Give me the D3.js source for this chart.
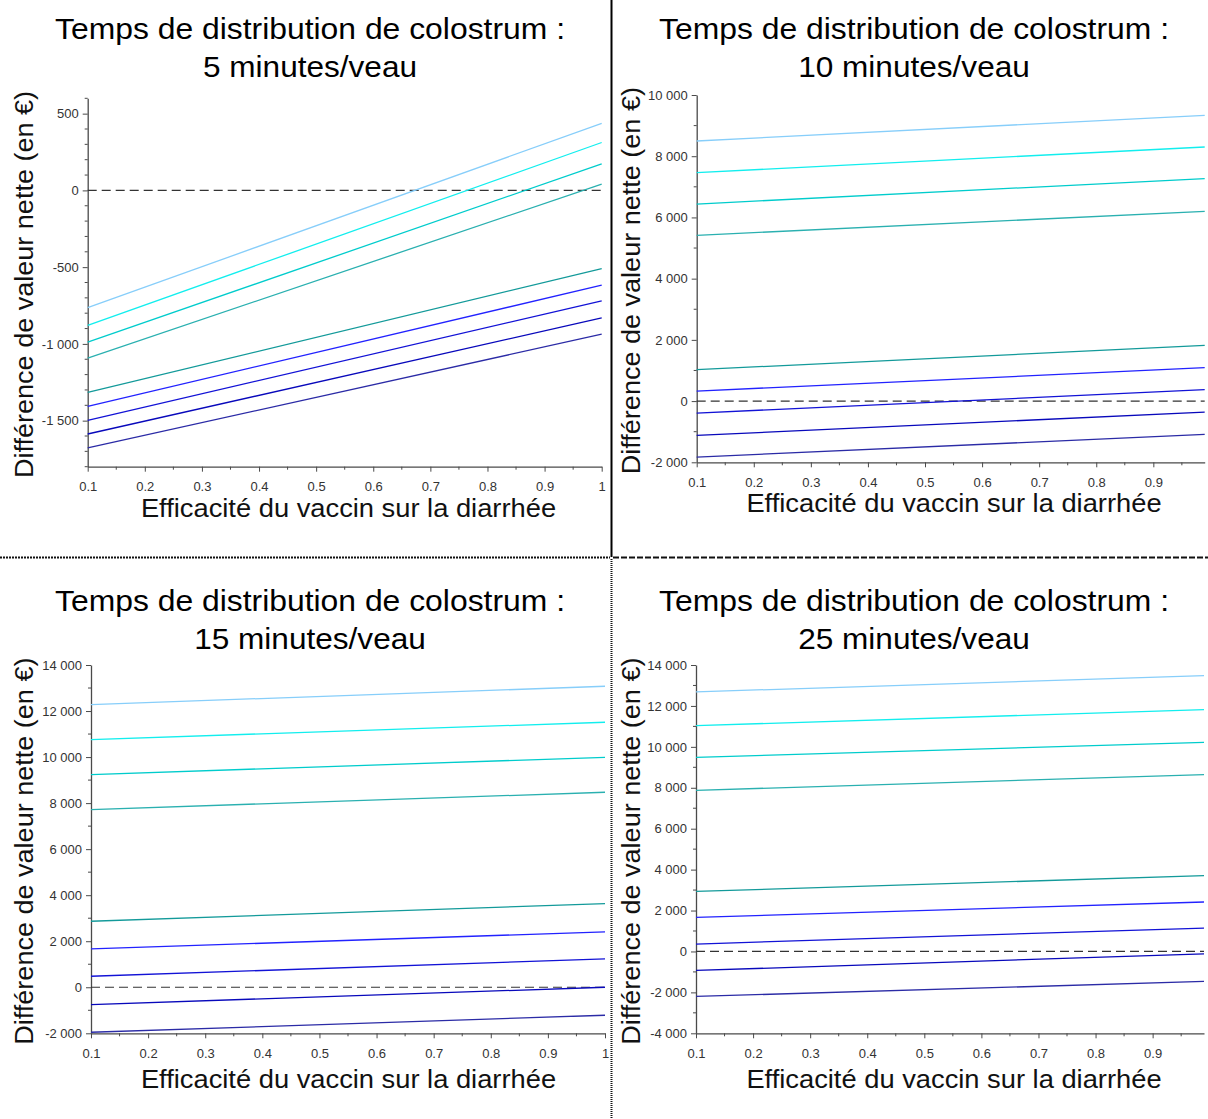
<!DOCTYPE html>
<html>
<head>
<meta charset="utf-8">
<script src="https://cdn.jsdelivr.net/npm/d3@7/dist/d3.min.js"></script>
<style>
  html, body { margin: 0; padding: 0; background: #fff; }
  svg { display: block; font-family: "Liberation Sans", Arial, sans-serif; }
</style>
</head>
<body>
<svg id="chart" width="1208" height="1119"></svg>
<script>
// Net value difference (EUR) against vaccine efficacy on diarrhoea,
// one panel per colostrum distribution time.
const timeLabels = ["5 minutes/veau", "10 minutes/veau", "15 minutes/veau", "25 minutes/veau"];
const efficacyStart = 0.1;
const efficacyEnd = [1, 0.99, 1, 0.99];

// Value of each of the nine scenarios at the first and last efficacy
const start5  = [-764, -879, -989, -1093, -1316, -1407, -1498, -1587, -1677];
const end5    = [437, 312, 173, 41, -509, -617, -719, -831, -937];
const start10 = [8497, 7464, 6438, 5415, 1026, 327, -392, -1121, -1830];
const end10   = [9337, 8301, 7268, 6199, 1820, 1091, 372, -359, -1088];
const start15 = [12280, 10760, 9240, 7720, 2867, 1668, 478, -752, -1955];
const end15   = [13076, 11512, 9991, 8471, 3636, 2406, 1233, 0, -1216];
const start25 = [12685, 11037, 9487, 7873, 2934, 1663, 362, -929, -2200];
const end25   = [13482, 11819, 10220, 8641, 3702, 2416, 1144, -114, -1467];

const yDomains = [[-1800, 600], [-2000, 10000], [-2000, 14000], [-4000, 14000]];
const yMajorTicks = [
  [-1500, -1000, -500, 0, 500],
  [-2000, 0, 2000, 4000, 6000, 8000, 10000],
  [-2000, 0, 2000, 4000, 6000, 8000, 10000, 12000, 14000],
  [-4000, -2000, 0, 2000, 4000, 6000, 8000, 10000, 12000, 14000]
];
const yMinorStep = [100, 1000, 1000, 1000];
const xMajorTicks = [
  [0.1, 0.2, 0.3, 0.4, 0.5, 0.6, 0.7, 0.8, 0.9, 1],
  [0.1, 0.2, 0.3, 0.4, 0.5, 0.6, 0.7, 0.8, 0.9],
  [0.1, 0.2, 0.3, 0.4, 0.5, 0.6, 0.7, 0.8, 0.9, 1],
  [0.1, 0.2, 0.3, 0.4, 0.5, 0.6, 0.7, 0.8, 0.9]
];

const lineColors = ["#87cefa", "#12eeee", "#00cccc", "#2ab0b0", "#139a9a",
                    "#2222ff", "#1212d6", "#0808bb", "#2b2ba6"];

const starts = [start5, start10, start15, start25];
const ends = [end5, end10, end15, end25];

// Plot frames for the four panels
const frames = [
  { left: 87.7, right: 601.7, top: 98.3, bottom: 466.7, cx: 310, ty: 0,   ylx: 33 },
  { left: 696.7, right: 1204.7, top: 95, bottom: 462.3, cx: 914, ty: 0,   ylx: 640 },
  { left: 91, right: 605, top: 665, bottom: 1033.3, cx: 310, ty: 572, ylx: 33 },
  { left: 696, right: 1204, top: 665, bottom: 1033.3, cx: 914, ty: 572, ylx: 640 }
];
const xLabelCenter = [348.5, 954, 348.5, 954];

const fr = d3.formatLocale({ decimal: ".", thousands: "\u00a0", grouping: [3], currency: ["", ""], minus: "-" });
const fmtY = fr.format(",d");
const fmtX = d => String(+d.toFixed(1));

const svg = d3.select("#chart");
const axisColor = "#4a4a4a";

// Widen a text element's glyphs by a factor (the face used is slightly broad)
function widen(sel, k) {
  sel.each(function () {
    const w = this.getComputedTextLength();
    d3.select(this).attr("textLength", w * k).attr("lengthAdjust", "spacingAndGlyphs");
  });
}

frames.forEach((f, i) => {
  const g = svg.append("g");
  const x = d3.scaleLinear().domain([efficacyStart, efficacyEnd[i]]).range([f.left, f.right]);
  const y = d3.scaleLinear().domain(yDomains[i]).range([f.bottom, f.top]);

  // Title
  const t1 = g.append("text")
    .attr("x", f.cx).attr("y", 39 + f.ty)
    .attr("text-anchor", "middle").attr("font-size", 29.5).attr("fill", "#000")
    .text("Temps de distribution de colostrum :");
  const t2 = g.append("text")
    .attr("x", f.cx).attr("y", 77 + f.ty)
    .attr("text-anchor", "middle").attr("font-size", 29.5).attr("fill", "#000")
    .text(timeLabels[i]);
  widen(t1, 1.08);
  widen(t2, 1.07);

  // Minor ticks
  const yMinor = d3.range(yDomains[i][0], yDomains[i][1] + 1, yMinorStep[i])
    .filter(v => !yMajorTicks[i].includes(v));
  const xMinor = d3.range(0.15, efficacyEnd[i], 0.1);
  g.selectAll(".ym").data(yMinor).join("line")
    .attr("x1", f.left - 3).attr("x2", f.left)
    .attr("y1", d => y(d)).attr("y2", d => y(d))
    .attr("stroke", axisColor).attr("stroke-width", 1);
  g.selectAll(".xm").data(xMinor).join("line")
    .attr("x1", d => x(d)).attr("x2", d => x(d))
    .attr("y1", f.bottom).attr("y2", f.bottom + 3)
    .attr("stroke", axisColor).attr("stroke-width", 1);

  // Axes
  const yAxis = g.append("g").attr("transform", `translate(${f.left},0)`)
    .call(d3.axisLeft(y).tickValues(yMajorTicks[i]).tickFormat(fmtY).tickSize(5).tickPadding(4).tickSizeOuter(0));
  const xAxis = g.append("g").attr("transform", `translate(0,${f.bottom})`)
    .call(d3.axisBottom(x).tickValues(xMajorTicks[i]).tickFormat(fmtX).tickSize(5).tickPadding(10).tickSizeOuter(0));
  [yAxis, xAxis].forEach(a => {
    a.select(".domain").attr("stroke", axisColor).attr("stroke-width", 1.3);
    a.selectAll(".tick line").attr("stroke", axisColor);
    a.selectAll(".tick text").attr("font-size", 13).attr("fill", "#333")
      .attr("font-family", "'Liberation Sans', Arial, sans-serif");
  });

  // Zero reference
  g.append("line")
    .attr("x1", f.left).attr("x2", f.right)
    .attr("y1", y(0)).attr("y2", y(0))
    .attr("stroke", "#333").attr("stroke-width", 1.2)
    .attr("stroke-dasharray", "9,5");

  // Scenario lines
  const line = d3.line().x(d => x(d[0])).y(d => y(d[1]));
  const series = starts[i].map((s, k) => [[efficacyStart, s], [efficacyEnd[i], ends[i][k]]]);
  g.selectAll(".series").data(series).join("path")
    .attr("d", line)
    .attr("fill", "none")
    .attr("stroke", (d, k) => lineColors[k])
    .attr("stroke-width", 1.3);

  // Axis titles
  const yl = g.append("text")
    .attr("transform", `translate(${f.ylx},${(f.top + f.bottom) / 2 + 2}) rotate(-90)`)
    .attr("text-anchor", "middle")
    .attr("font-size", 26.5)
    .attr("fill", "#111")
    .text("Différence de valeur nette (en €)");
  widen(yl, 1.02);
  const xl = g.append("text")
    .attr("x", xLabelCenter[i]).attr("y", f.bottom + (i < 2 ? 50 : 55))
    .attr("text-anchor", "middle")
    .attr("font-size", 26.5)
    .attr("fill", "#111")
    .text("Efficacité du vaccin sur la diarrhée");
  widen(xl, 1.03);
});

// Panel separators
svg.append("line").attr("x1", 611.5).attr("x2", 611.5).attr("y1", 0).attr("y2", 557)
  .attr("stroke", "#000").attr("stroke-width", 2);
svg.append("line").attr("x1", 611.5).attr("x2", 611.5).attr("y1", 559).attr("y2", 1119)
  .attr("stroke", "#111").attr("stroke-width", 2).attr("stroke-dasharray", "1,1");
svg.append("line").attr("x1", 0).attr("x2", 610).attr("y1", 557.5).attr("y2", 557.5)
  .attr("stroke", "#111").attr("stroke-width", 2).attr("stroke-dasharray", "2,1");
svg.append("line").attr("x1", 613).attr("x2", 1208).attr("y1", 557.5).attr("y2", 557.5)
  .attr("stroke", "#111").attr("stroke-width", 2).attr("stroke-dasharray", "6,2");
</script>
</body>
</html>
